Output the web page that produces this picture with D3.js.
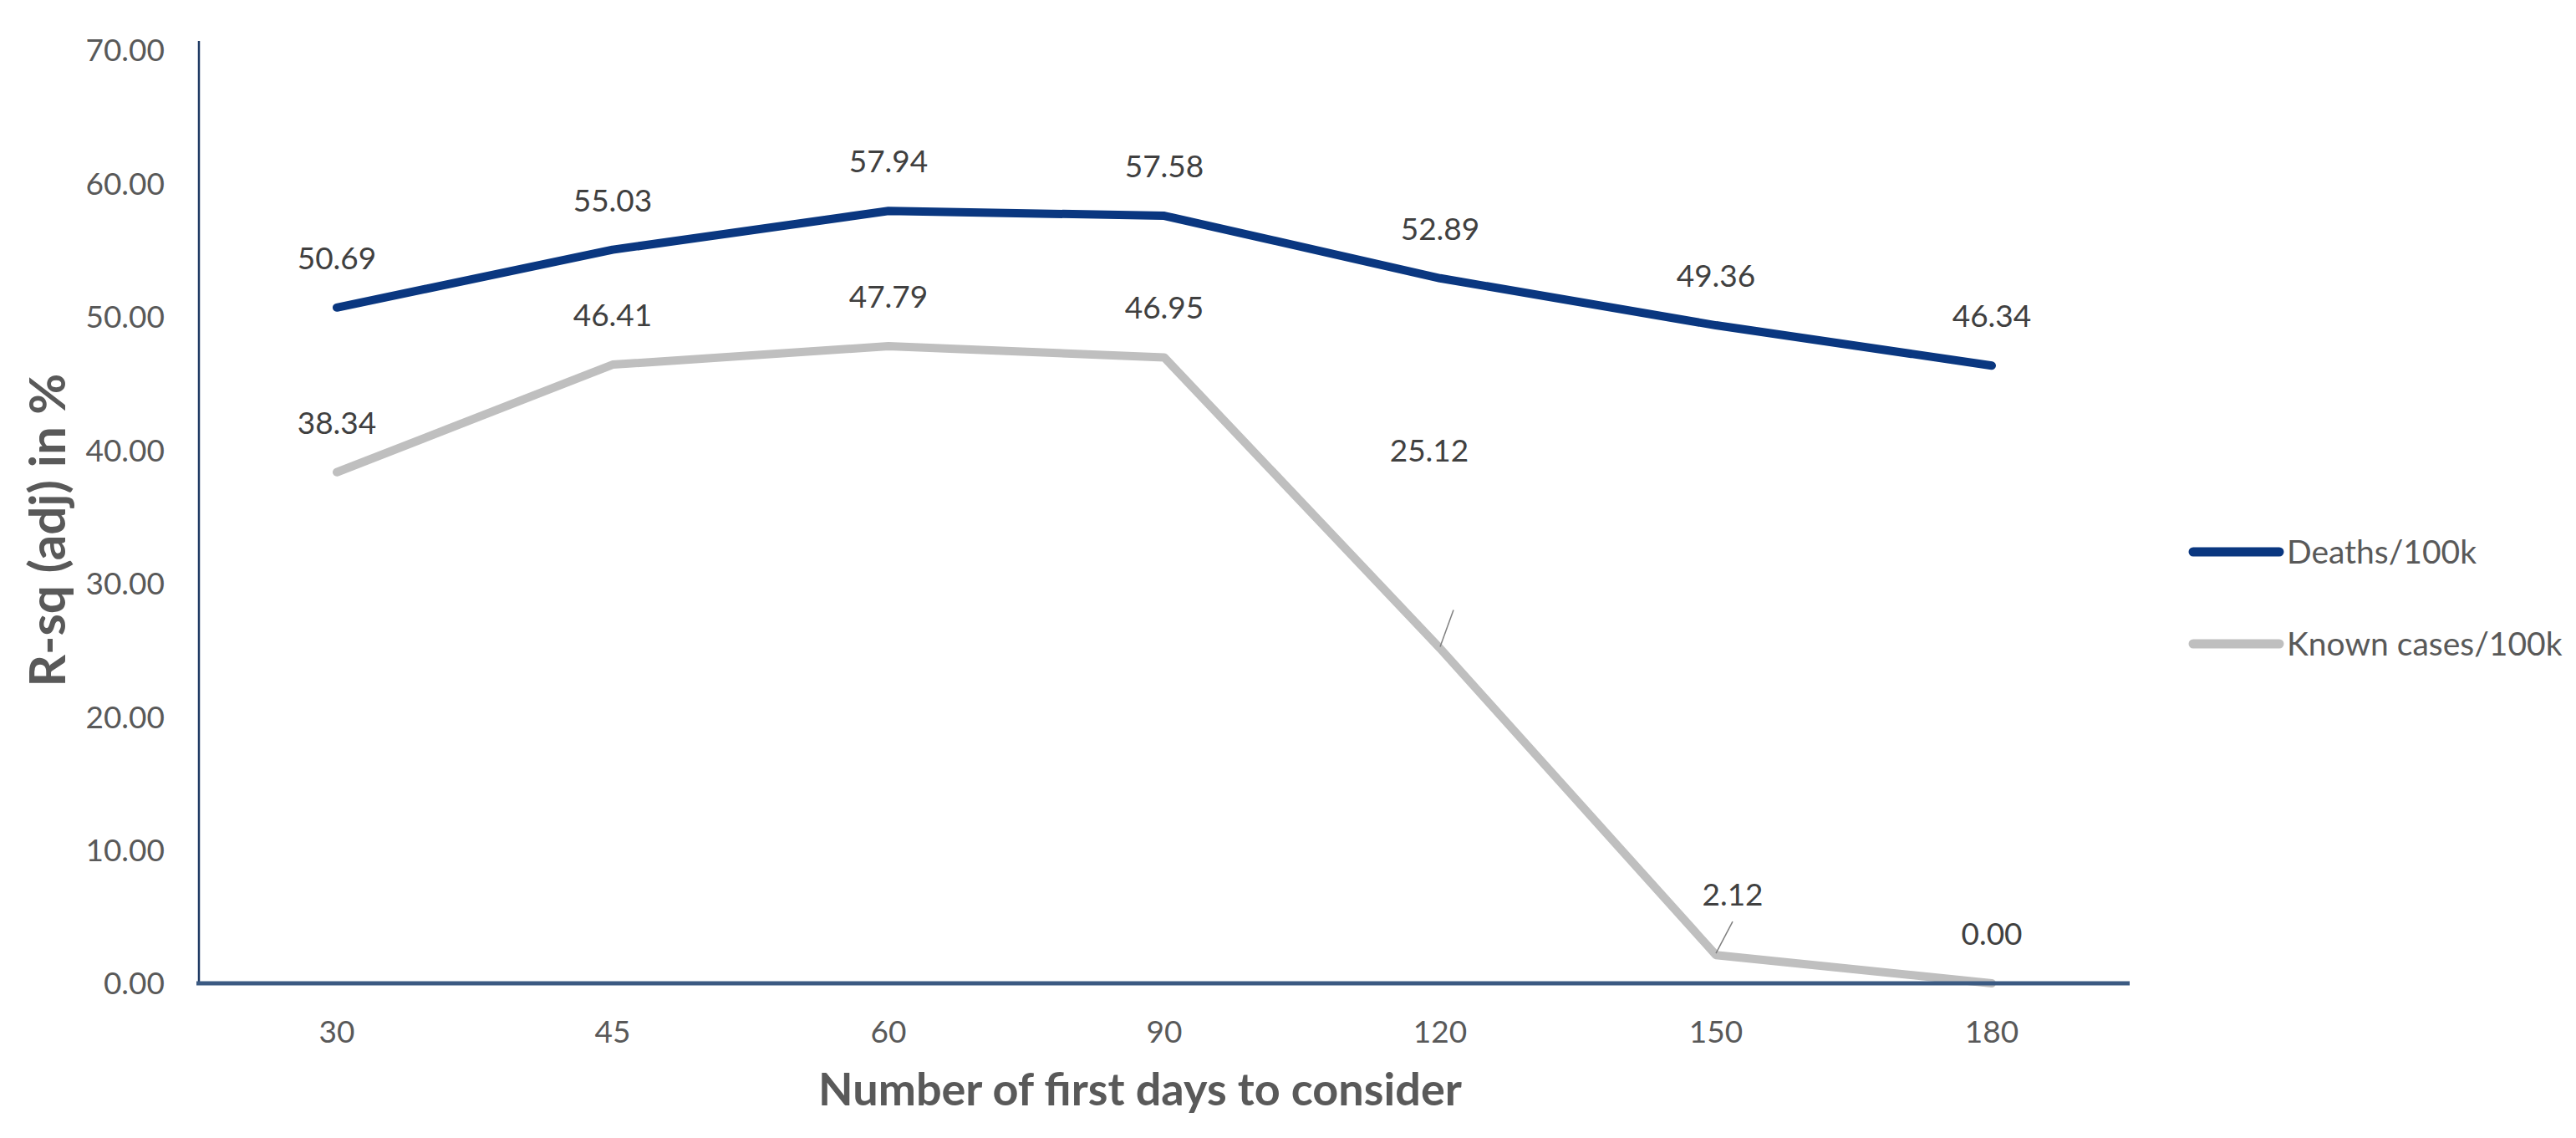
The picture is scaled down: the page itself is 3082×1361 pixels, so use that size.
<!DOCTYPE html>
<html>
<head>
<meta charset="utf-8">
<script src="https://cdn.jsdelivr.net/npm/d3@7"></script>
<style>
  html, body { margin: 0; padding: 0; background: #ffffff; }
  svg { display: block; }
  text { font-family: Lato, "Open Sans", "Noto Sans", sans-serif; }
</style>
</head>
<body>
<svg id="chart" width="3082" height="1361"></svg>
<script>
// ---- data ----
const categories = ["30", "45", "60", "90", "120", "150", "180"];
const deaths = [50.69, 55.03, 57.94, 57.58, 52.89, 49.36, 46.34];
const knownCases = [38.34, 46.41, 47.79, 46.95, 25.12, 2.12, 0.00];
const yTicks = [0, 10, 20, 30, 40, 50, 60, 70];
const seriesNames = ["Deaths/100k", "Known cases/100k"];
const xTitle = "Number of first days to consider";
const yTitle = "R-sq (adj) in %";

// ---- layout / style ----
const W = 3082, H = 1361;
const plot = { left: 238, right: 2548, top: 60, bottom: 1176 };
const colors = ["#0a3780", "#bfbfbf"];
const textColor = "#595959";
const labelColor = "#404040";

const svg = d3.select("#chart");
svg.append("rect").attr("width", W).attr("height", H).attr("fill", "#fff");

const x = d3.scaleBand().domain(categories).range([plot.left, plot.right]).padding(0);
const cx = c => x(c) + x.bandwidth() / 2;
const y = d3.scaleLinear().domain([0, 70]).range([plot.bottom, plot.top]);

// y axis
const yAxis = svg.append("g")
  .attr("transform", `translate(${plot.left},0)`)
  .call(d3.axisLeft(y).tickValues(yTicks).tickFormat(d3.format(".2f")).tickSize(0).tickPadding(41));
yAxis.select(".domain").remove();
yAxis.selectAll("text")
  .attr("fill", textColor).attr("font-size", 37).attr("dy", "0.35em")
  .style("font-family", "Lato, 'Open Sans', sans-serif");
svg.append("line")
  .attr("x1", plot.left).attr("x2", plot.left)
  .attr("y1", plot.top - 11).attr("y2", plot.bottom)
  .attr("stroke", "#1f3a63").attr("stroke-width", 2.5);

// x axis
const xAxis = svg.append("g")
  .attr("transform", `translate(0,${plot.bottom})`)
  .call(d3.axisBottom(x).tickSize(0));
xAxis.select(".domain").remove();
xAxis.selectAll("text")
  .attr("fill", textColor).attr("font-size", 37)
  .attr("y", 58).attr("dy", "0.35em")
  .style("font-family", "Lato, 'Open Sans', sans-serif");

// lines
const line = d3.line().x(d => cx(d.c)).y(d => y(d.v));
const series = [deaths, knownCases];
// draw grey first so blue sits on top
[1, 0].forEach(si => {
  const pts = categories.map((c, i) => ({ c, v: series[si][i] }));
  svg.append("path")
    .datum(pts)
    .attr("d", line)
    .attr("fill", "none")
    .attr("stroke", colors[si])
    .attr("stroke-width", 10)
    .attr("stroke-linejoin", "round")
    .attr("stroke-linecap", "round");
});

// x axis baseline (drawn over lines)
svg.append("line")
  .attr("x1", plot.left - 3).attr("x2", plot.right)
  .attr("y1", plot.bottom).attr("y2", plot.bottom)
  .attr("stroke", "#3b5a82").attr("stroke-width", 5);

// data labels (offsets and short leader stubs near the point)
const labelOffsets = {
  "1-4": { dx: -13, dy: -236, leader: [16, -46] },
  "1-5": { dx: 20, dy: -72, leader: [20, -40] }
};
series.forEach((s, si) => {
  s.forEach((v, i) => {
    const px = cx(categories[i]), py = y(v);
    const off = labelOffsets[`${si}-${i}`] || { dx: 0, dy: -59 };
    const lx = px + off.dx, ly = py + off.dy;
    if (off.leader) {
      svg.append("line")
        .attr("x1", px + off.leader[0]).attr("y1", py + off.leader[1])
        .attr("x2", px).attr("y2", py - 2)
        .attr("stroke", "#7f7f7f").attr("stroke-width", 1.5);
    }
    svg.append("text")
      .attr("x", lx).attr("y", ly)
      .attr("text-anchor", "middle").attr("dy", "0.35em")
      .attr("font-size", 37).attr("fill", labelColor)
      .text(d3.format(".2f")(v));
  });
});

// legend
const legendY = [660, 770];
seriesNames.forEach((n, i) => {
  svg.append("line")
    .attr("x1", 2624).attr("x2", 2727)
    .attr("y1", legendY[i]).attr("y2", legendY[i])
    .attr("stroke", colors[i]).attr("stroke-width", 11)
    .attr("stroke-linecap", "round");
  svg.append("text")
    .attr("x", 2736).attr("y", legendY[i]).attr("dy", "0.35em")
    .attr("font-size", 39).attr("fill", textColor)
    .text(n);
});

// axis titles
svg.append("text")
  .attr("x", 1364).attr("y", 1303).attr("dy", "0.35em")
  .attr("text-anchor", "middle")
  .attr("font-size", 54).attr("font-weight", "bold").attr("fill", textColor)
  .text(xTitle);
svg.append("text")
  .attr("transform", `translate(57,634) rotate(-90)`)
  .attr("dy", "0.35em")
  .attr("text-anchor", "middle")
  .attr("font-size", 60).attr("font-weight", "bold").attr("fill", textColor)
  .text(yTitle);
</script>
</body>
</html>
